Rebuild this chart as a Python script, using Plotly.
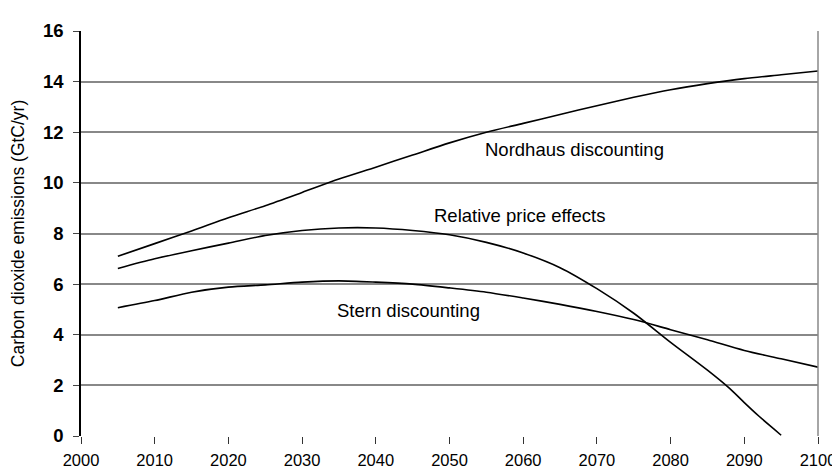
import plotly.graph_objects as go

years = [2005, 2010, 2015, 2020, 2025, 2030, 2035, 2040, 2045, 2050, 2055, 2060,
         2065, 2070, 2075, 2080, 2085, 2090, 2095, 2100]
nordhaus = [7.1, 7.6, 8.1, 8.62, 9.1, 9.62, 10.15, 10.62, 11.1, 11.58, 12.0, 12.35,
            12.7, 13.05, 13.38, 13.68, 13.92, 14.12, 14.27, 14.42]
stern = [5.07, 5.35, 5.68, 5.88, 5.97, 6.08, 6.13, 6.08, 6.0, 5.85, 5.68, 5.45,
         5.2, 4.92, 4.6, 4.2, 3.8, 3.38, 3.05, 2.72]

rel_years = [2005, 2010, 2015, 2020, 2025, 2030, 2035, 2040, 2045, 2050, 2055, 2060,
             2065, 2070, 2075, 2080, 2085, 2088, 2090, 2092, 2094, 2095]
relative = [6.62, 7.0, 7.32, 7.62, 7.92, 8.12, 8.22, 8.22, 8.12, 7.95, 7.65, 7.23,
            6.65, 5.82, 4.85, 3.7, 2.6, 1.88, 1.32, 0.78, 0.28, 0.03]

labels = ["Nordhaus discounting", "Relative price effects", "Stern discounting"]
label_x = [2067.0, 2059.5, 2044.4]
label_y = [11.3, 8.71, 4.96]

y_title = "Carbon dioxide emissions (GtC/yr)"
x_ticks = list(range(2000, 2101, 10))
y_ticks = list(range(0, 17, 2))

fig = go.Figure()
for xs, ys in [(years, nordhaus), (rel_years, relative), (years, stern)]:
    fig.add_trace(go.Scatter(x=xs, y=ys, mode="lines",
                             line=dict(color="black", width=1.6, shape="spline", smoothing=0.8),
                             showlegend=False, hoverinfo="skip"))

for t, lx, ly in zip(labels, label_x, label_y):
    fig.add_annotation(x=lx, y=ly, text=t, showarrow=False,
                       font=dict(family="Liberation Sans, Arial", size=18.5, color="black"))

fig.add_annotation(xref="paper", yref="paper", x=-0.0859, y=0.5, text=y_title,
                   textangle=-90, showarrow=False, xanchor="center", yanchor="middle",
                   font=dict(family="Liberation Sans, Arial", size=17.5, color="black"))

fig.add_shape(type="line", xref="paper", yref="paper", x0=1, x1=1, y0=0, y1=1,
              line=dict(color="#888888", width=1.5))

fig.update_layout(
    width=840, height=473,
    margin=dict(l=73, r=22, t=16, b=38),
    paper_bgcolor="white", plot_bgcolor="white",
    font=dict(family="Liberation Sans, Arial", color="black"),
    xaxis=dict(range=[2000, 2100], tickvals=x_ticks, ticks="outside", ticklen=7,
               tickcolor="#333333", tickwidth=1.2, showgrid=False, zeroline=False,
               showline=False, tickfont=dict(size=16.5), ticklabelstandoff=2),
    yaxis=dict(range=[0, 16], tickvals=y_ticks, ticks="outside", ticklen=6,
               tickcolor="#444444", tickwidth=1.2, showgrid=True, gridcolor="#888888",
               gridwidth=1.5, zeroline=False, showline=True, linecolor="black",
               linewidth=1.6, tickfont=dict(size=18.5, weight=700), ticklabelstandoff=6),
)

fig.write_html("out.html")
